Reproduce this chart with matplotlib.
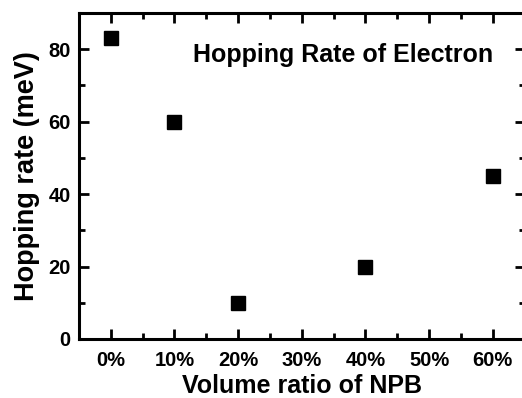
import matplotlib
matplotlib.use("Agg")
import matplotlib.pyplot as plt
from matplotlib.ticker import MultipleLocator, FuncFormatter

plt.rcParams['font.family'] = ['Liberation Sans', 'DejaVu Sans']
plt.rcParams['font.weight'] = 'bold'

ratio = [0, 10, 20, 40, 60]
rate = [83, 60, 10, 20, 45]
xticks = [0, 10, 20, 30, 40, 50, 60]
yticks = [0, 20, 40, 60, 80]

fig = plt.figure(figsize=(5.22, 3.98), dpi=100)
ax = fig.add_axes([79/522, 1-339/398, (524.5-79)/522, (339-13)/398])
ax.plot(ratio, rate, 's', color='black', markersize=9.5, linestyle='none')
ax.set_xlim(-5, 65)
ax.set_ylim(0, 90)
ax.set_xticks(xticks)
ax.set_yticks(yticks)
ax.xaxis.set_major_formatter(FuncFormatter(lambda v, p: f"{int(v)}%"))
ax.xaxis.set_minor_locator(MultipleLocator(5))
ax.yaxis.set_minor_locator(MultipleLocator(10))
ax.tick_params(which='both', direction='in', top=True, right=True, width=2,
               labelsize=14.5)
ax.tick_params(axis='x', which='major', pad=9)
ax.tick_params(axis='y', which='major', pad=6)
ax.tick_params(which='major', length=7)
ax.tick_params(which='minor', length=4)
for lab in ax.get_xticklabels() + ax.get_yticklabels():
    lab.set_fontweight('bold')
for s in ax.spines.values():
    s.set_linewidth(2.2)
ax.set_xlabel('Volume ratio of NPB', fontsize=18, fontweight='bold', labelpad=2.5)
ax.set_ylabel('Hopping rate (meV)', fontsize=19.5, fontweight='bold', labelpad=6)
ax.text(0.929, 0.871, 'Hopping Rate of Electron', transform=ax.transAxes,
        ha='right', va='center', fontsize=18, fontweight='bold')
fig.savefig('out.png', dpi=100)
